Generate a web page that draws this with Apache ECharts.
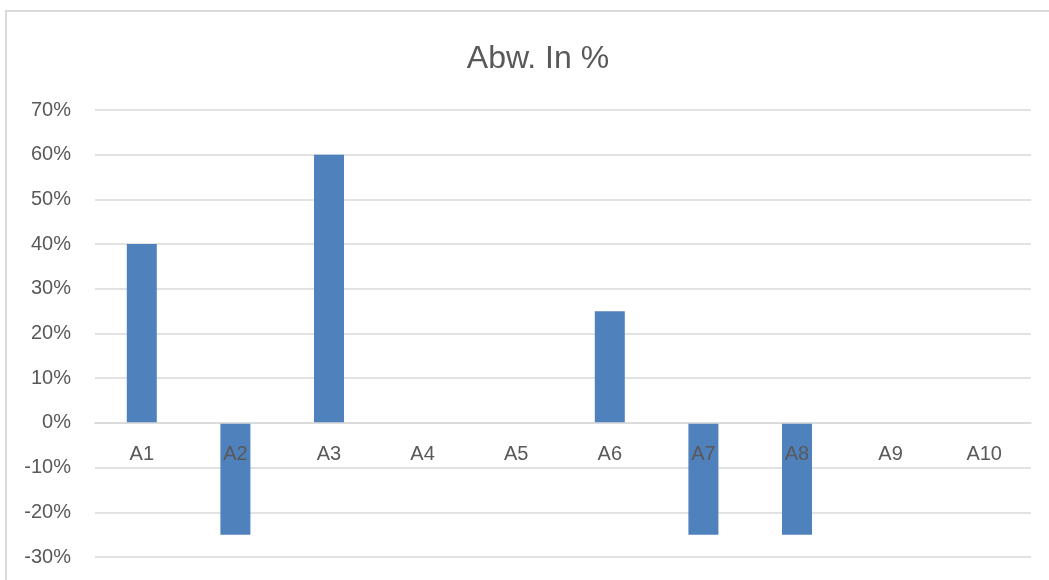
<!DOCTYPE html>
<html>
<head>
<meta charset="utf-8">
<script src="https://cdn.jsdelivr.net/npm/echarts@6/dist/echarts.min.js"></script>
<style>
  html, body { margin: 0; padding: 0; background: #fff; overflow: hidden; }
  #frame { position: absolute; left: 5px; top: 10px; width: 1100px; height: 620px; border: 2px solid #d9d9d9; box-sizing: border-box; }
  #chart { position: absolute; left: 0; top: 0; width: 1049px; height: 580px; }
</style>
</head>
<body>
<div id="frame"></div>
<div id="chart"></div>
<script>
let categories = ['A1', 'A2', 'A3', 'A4', 'A5', 'A6', 'A7', 'A8', 'A9', 'A10'];
let values = [40, -25, 60, 0, 0, 25, -25, -25, 0, 0];
let yMin = -30, yMax = 70, yStep = 10;

let myChart = echarts.init(document.getElementById('chart'));
let font = 'Liberation Sans, Arial, sans-serif';
let gridTop = 110, gridBottom = 23;
let plotH = 580 - gridTop - gridBottom;
// move the category axis up to the 0% line
let zeroOffset = -plotH * (0 - yMin) / (yMax - yMin);
let option = {
    title: {
        text: 'Abw. In %',
        left: 533,
        textAlign: 'center',
        top: 38,
        textStyle: { fontFamily: font, fontSize: 32, fontWeight: 'normal', color: '#595959' }
    },
    grid: { left: 95, right: 18, top: gridTop, bottom: gridBottom, containLabel: false, outerBoundsMode: 'none' },
    xAxis: {
        type: 'category',
        data: categories,
        offset: zeroOffset,
        z: 10,
        axisLine: { onZero: false, lineStyle: { color: '#d9d9d9', width: 1.5 } },
        axisTick: { show: false },
        axisLabel: { margin: 22, fontFamily: font, fontSize: 20, color: '#595959' }
    },
    yAxis: {
        type: 'value',
        min: yMin,
        max: yMax,
        interval: yStep,
        axisLabel: { formatter: '{value}%', margin: 24, fontFamily: font, fontSize: 20, color: '#595959' },
        splitLine: { lineStyle: { color: '#d9d9d9', width: 1.5 } },
        axisLine: { show: false },
        axisTick: { show: false }
    },
    series: [{
        type: 'bar',
        data: values,
        barWidth: 30,
        itemStyle: { color: '#4f81bd' }
    }],
    animation: false
};
myChart.setOption(option);
</script>
</body>
</html>
